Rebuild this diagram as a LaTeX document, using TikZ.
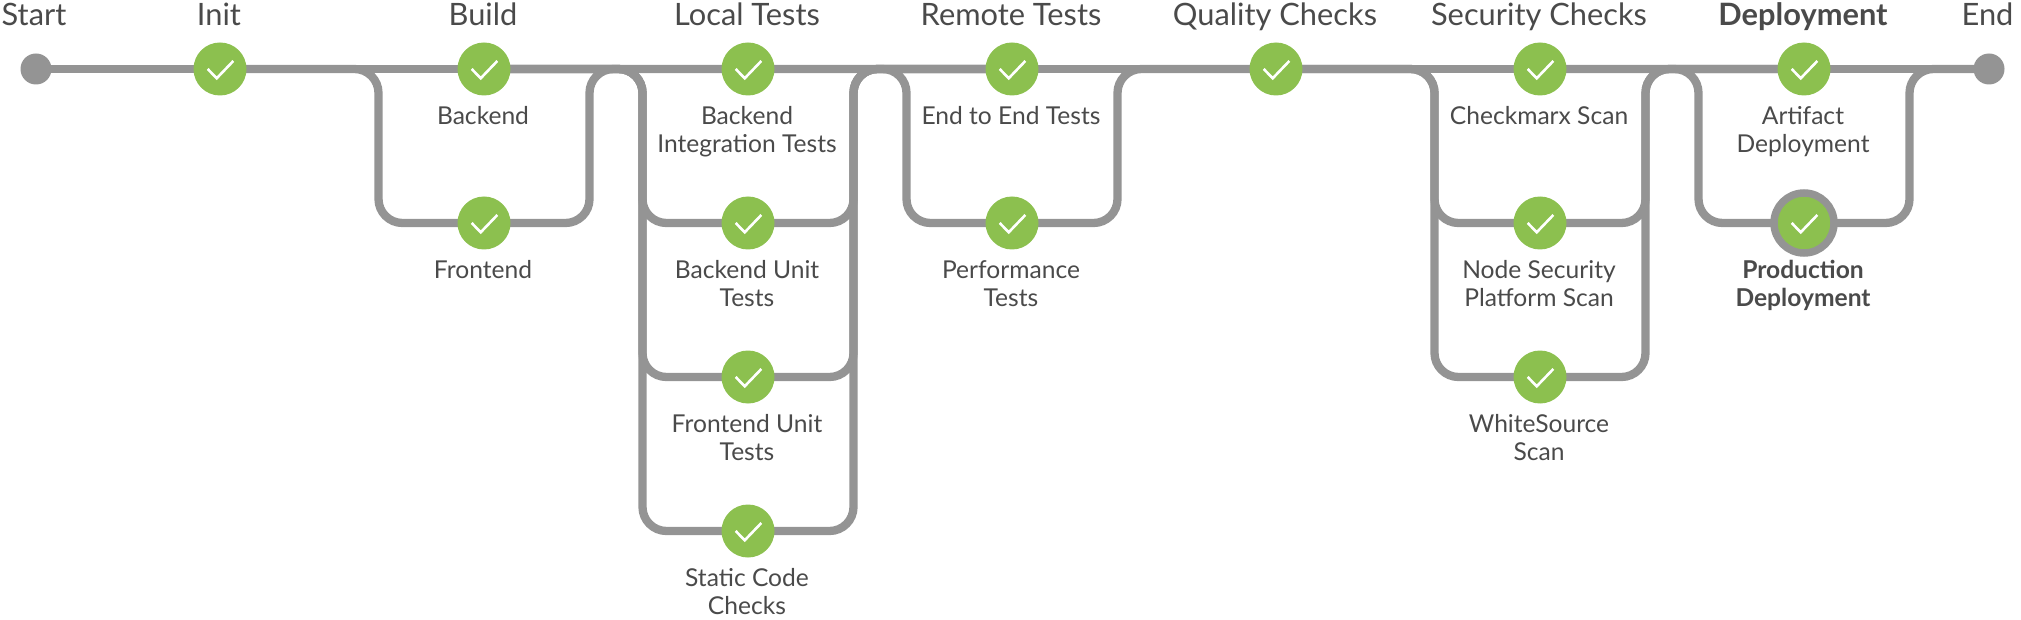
\documentclass[tikz,border=0pt]{standalone}
\usepackage{fontspec}
\setmainfont{Lato}
\usetikzlibrary{backgrounds}
\definecolor{pipe}{HTML}{949494}
\definecolor{okgreen}{HTML}{8CC04F}
\definecolor{ink}{HTML}{4A4A4A}
\tikzset{
  x=1pt,y=-1pt,
  stage/.style={circle,fill=okgreen,inner sep=0pt,minimum size=53pt},
  current/.style={circle,fill=okgreen,draw=pipe,line width=7.5pt,inner sep=0pt,minimum size=60pt},
  endpoint/.style={circle,fill=pipe,inner sep=0pt,minimum size=31pt},
  head/.style={text=ink,font=\fontsize{30.8}{36}\selectfont,anchor=base,inner sep=0pt},
  sub/.style={text=ink,font=\fontsize{24.6}{28}\selectfont,anchor=base,inner sep=0pt,align=center},
  link/.style={draw=pipe,line width=8.3pt},
  branch/.style={link,rounded corners=24pt},
  tick/.style={draw=white,line width=2.6pt},
}
\newcommand{\tickon}[1]{\draw[tick] ([shift={(-12.3,0)}]#1.center) -- ([shift={(-3.3,9.3)}]#1.center) -- ([shift={(13.3,-8)}]#1.center);}
\begin{document}
\begin{tikzpicture}
\useasboundingbox (0,0) rectangle (2021,620);
% stages
\node[endpoint] (start) at (36,69) {};
\node[stage] (init) at (220,69) {};
\node[stage] (build) at (484,69) {};
\node[stage] (local) at (748,69) {};
\node[stage] (remote) at (1012,69) {};
\node[stage] (quality) at (1276,69) {};
\node[stage] (security) at (1540,69) {};
\node[stage] (deploy) at (1804,69) {};
\node[endpoint] (finish) at (1989,69) {};
\node[stage] (frontend) at (484,223) {};
\node[stage] (beunit) at (748,223) {};
\node[stage] (feunit) at (748,377) {};
\node[stage] (static) at (748,531) {};
\node[stage] (perf) at (1012,223) {};
\node[stage] (nsp) at (1540,223) {};
\node[stage] (white) at (1540,377) {};
\node[current] (prod) at (1804,223) {};
% branch rails
\coordinate (bL) at (378.5,146);
\coordinate (bR) at (589.5,146);
\coordinate (lL) at (642.5,146);
\coordinate (lR) at (853.5,146);
\coordinate (rL) at (906.5,146);
\coordinate (rR) at (1117.5,146);
\coordinate (sL) at (1434.5,146);
\coordinate (sR) at (1645.5,146);
\coordinate (dL) at (1698.5,146);
\coordinate (dR) at (1909.5,146);
\begin{scope}[on background layer]
\draw[link] (start.center) -- (init.center);
\draw[link] (init.center) -- (build.center);
\draw[link] (build.center) -- (local.center);
\draw[link] (local.center) -- (remote.center);
\draw[link] (remote.center) -- (quality.center);
\draw[link] (quality.center) -- (security.center);
\draw[link] (security.center) -- (deploy.center);
\draw[link] (deploy.center) -- (finish.center);
\draw[branch] (init.center) -| (bL) |- (frontend.center);
\draw[branch] (frontend.center) -| (bR) |- (local.center);
\draw[branch] (build.center) -| (lL) |- (beunit.center);
\draw[branch] (build.center) -| (lL) |- (feunit.center);
\draw[branch] (build.center) -| (lL) |- (static.center);
\draw[branch] (beunit.center) -| (lR) |- (remote.center);
\draw[branch] (feunit.center) -| (lR) |- (remote.center);
\draw[branch] (static.center) -| (lR) |- (remote.center);
\draw[branch] (local.center) -| (rL) |- (perf.center);
\draw[branch] (perf.center) -| (rR) |- (quality.center);
\draw[branch] (quality.center) -| (sL) |- (nsp.center);
\draw[branch] (quality.center) -| (sL) |- (white.center);
\draw[branch] (nsp.center) -| (sR) |- (deploy.center);
\draw[branch] (white.center) -| (sR) |- (deploy.center);
\draw[branch] (security.center) -| (dL) |- (prod.center);
\draw[branch] (prod.center) -| (dR) |- (finish.center);
\end{scope}
\foreach \n in {init,build,local,remote,quality,security,deploy,frontend,beunit,feunit,static,perf,nsp,white,prod}{\tickon{\n}}
% headings
\node[head] (tStart) at (34,25.5) {Start};
\node[head] (tInit) at (219,25.5) {Init};
\node[head] (tBuild) at (483,25.5) {Build};
\node[head] (tLocal) at (747,25.5) {Local Tests};
\node[head] (tRemote) at (1011,25.5) {Remote Tests};
\node[head] (tQuality) at (1275,25.5) {Quality Checks};
\node[head] (tSecurity) at (1539,25.5) {Security Checks};
\node[head,font=\fontsize{30.8}{36}\selectfont\bfseries] (tDeploy) at (1803,25.5) {Deployment};
\node[head] (tEnd) at (1987.5,25.5) {End};
% stage labels (a two-line node's base is its last line)
\node[sub] (aBackend) at (483,124.5) {Backend};
\node[sub] (aFrontend) at (483,278.5) {Frontend};
\node[sub] (aBeInt) at (747,152.5) {Backend\\Integration Tests};
\node[sub] (aBeUnit) at (747,306.5) {Backend Unit\\Tests};
\node[sub] (aFeUnit) at (747,460.5) {Frontend Unit\\Tests};
\node[sub] (aStatic) at (747,614.5) {Static Code\\Checks};
\node[sub] (aE2e) at (1011,124.5) {End to End Tests};
\node[sub] (aPerf) at (1011,306.5) {Performance\\Tests};
\node[sub] (aCx) at (1539,124.5) {Checkmarx Scan};
\node[sub] (aNsp) at (1539,306.5) {Node Security\\Platform Scan};
\node[sub] (aWs) at (1539,460.5) {WhiteSource\\Scan};
\node[sub] (aArt) at (1803,152.5) {Artifact\\Deployment};
\node[sub,font=\fontsize{24.6}{28}\selectfont\bfseries] (aProd) at (1803,306.5) {Production\\Deployment};
\end{tikzpicture}
\end{document}
